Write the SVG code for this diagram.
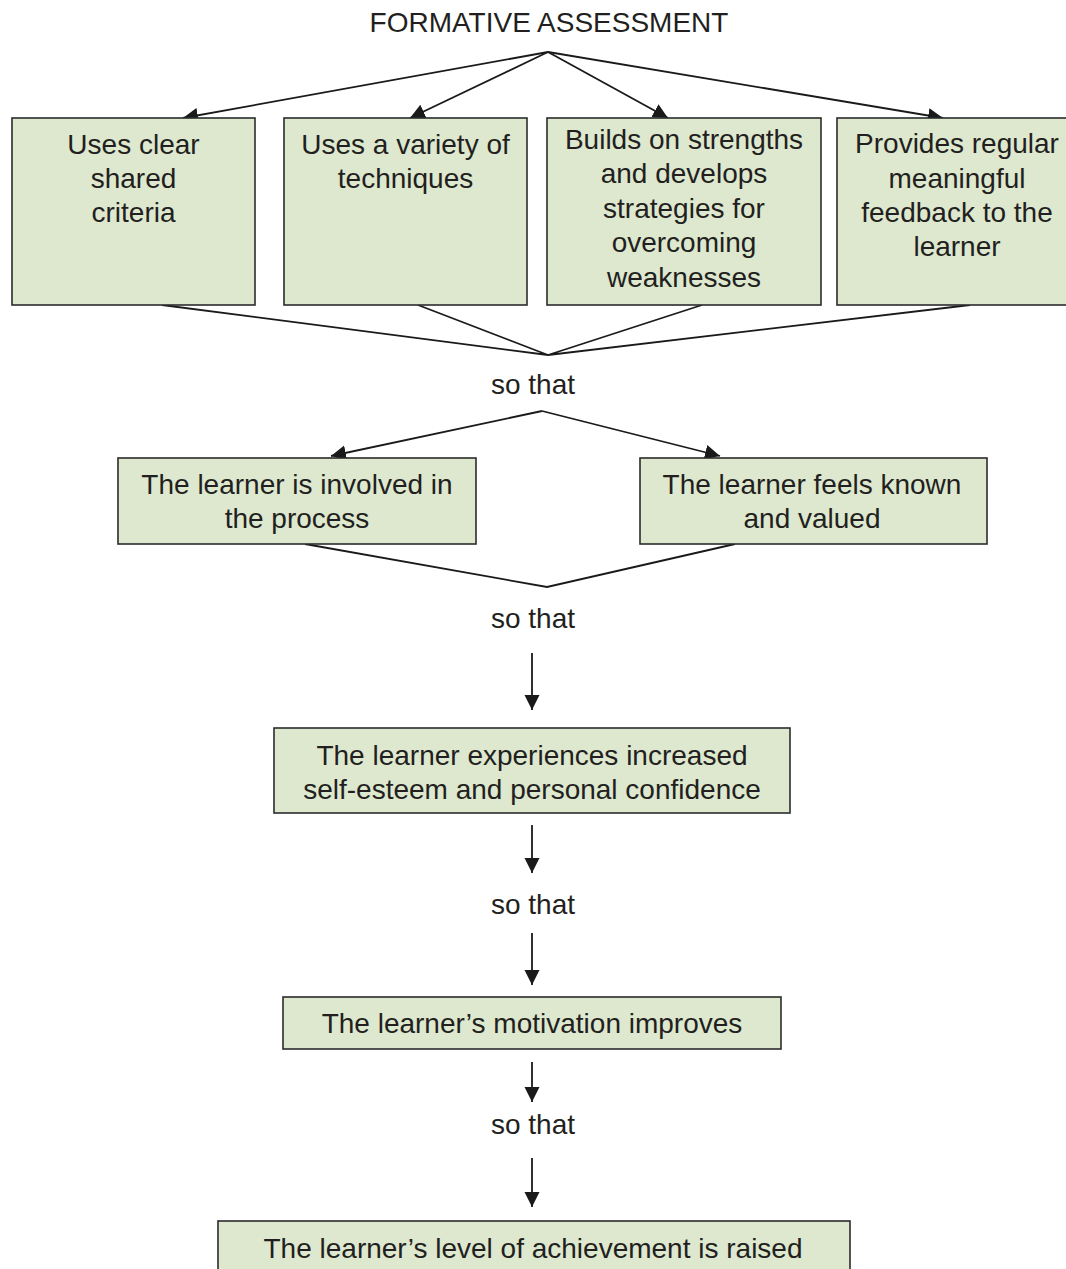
<svg xmlns="http://www.w3.org/2000/svg" width="1066" height="1269" viewBox="0 0 1066 1269">
  <style>
    .box { fill: #dde8cf; stroke: #2b2b2b; stroke-width: 1.6; }
    .lbl { font-family: "Liberation Sans", Arial, sans-serif; font-size: 28px; fill: #231f20; text-anchor: middle; }
    .link { fill: none; stroke: #1a1a1a; stroke-width: 1.8; }
    .arrow { fill: none; stroke: #1a1a1a; stroke-width: 1.8; marker-end: url(#head); }
  </style>
  <defs>
    <marker id="head" markerUnits="userSpaceOnUse" markerWidth="16" markerHeight="16" refX="15" refY="7.5" orient="auto">
      <path d="M0,0 L15,7.5 L0,15 z" fill="#1a1a1a"/>
    </marker>
  </defs>
  <rect width="1066" height="1269" fill="#ffffff"/>

  <!-- connectors -->
  <g id="connectors">
    <path class="arrow" d="M548,52 L183,118"/>
    <path class="arrow" d="M548,52 L410,118"/>
    <path class="arrow" d="M548,52 L668,118"/>
    <path class="arrow" d="M548,52 L943,118"/>
    <path class="link" d="M162,305 L548,355 L418,305"/>
    <path class="link" d="M702,305 L548,355 L970,305"/>
    <path class="arrow" d="M542,411 L331,456"/>
    <path class="arrow" d="M542,411 L720,456"/>
    <path class="link" d="M305,544 L547,587 L735,544"/>
    <path class="arrow" d="M532,653 L532,710"/>
    <path class="arrow" d="M532,825 L532,873"/>
    <path class="arrow" d="M532,933 L532,985"/>
    <path class="arrow" d="M532,1062 L532,1102"/>
    <path class="arrow" d="M532,1158 L532,1207"/>
  </g>

  <g id="title">
    <text class="lbl" x="549" y="32">FORMATIVE ASSESSMENT</text>
  </g>

  <g id="criteria">
    <rect class="box" x="12" y="118" width="243" height="187"/>
    <text class="lbl" x="133.5" y="154">Uses clear</text>
    <text class="lbl" x="133.5" y="188">shared</text>
    <text class="lbl" x="133.5" y="222">criteria</text>
  </g>

  <g id="techniques">
    <rect class="box" x="284" y="118" width="243" height="187"/>
    <text class="lbl" x="405.5" y="154">Uses a variety of</text>
    <text class="lbl" x="405.5" y="188">techniques</text>
  </g>

  <g id="strengths">
    <rect class="box" x="547" y="118" width="274" height="187"/>
    <text class="lbl" x="684" y="149">Builds on strengths</text>
    <text class="lbl" x="684" y="183">and develops</text>
    <text class="lbl" x="684" y="218">strategies for</text>
    <text class="lbl" x="684" y="252">overcoming</text>
    <text class="lbl" x="684" y="287">weaknesses</text>
  </g>

  <g id="feedback">
    <rect class="box" x="837" y="118" width="240" height="187"/>
    <text class="lbl" x="957" y="153">Provides regular</text>
    <text class="lbl" x="957" y="188">meaningful</text>
    <text class="lbl" x="957" y="222">feedback to the</text>
    <text class="lbl" x="957" y="256">learner</text>
  </g>

  <g id="so-that-1">
    <text class="lbl" x="533" y="394">so that</text>
  </g>

  <g id="involved">
    <rect class="box" x="118" y="458" width="358" height="86"/>
    <text class="lbl" x="297" y="494">The learner is involved in</text>
    <text class="lbl" x="297" y="528">the process</text>
  </g>

  <g id="valued">
    <rect class="box" x="640" y="458" width="347" height="86"/>
    <text class="lbl" x="812" y="494">The learner feels known</text>
    <text class="lbl" x="812" y="528">and valued</text>
  </g>

  <g id="so-that-2">
    <text class="lbl" x="533" y="628">so that</text>
  </g>

  <g id="self-esteem">
    <rect class="box" x="274" y="728" width="516" height="85"/>
    <text class="lbl" x="532" y="765">The learner experiences increased</text>
    <text class="lbl" x="532" y="799">self-esteem and personal confidence</text>
  </g>

  <g id="so-that-3">
    <text class="lbl" x="533" y="914">so that</text>
  </g>

  <g id="motivation">
    <rect class="box" x="283" y="997" width="498" height="52"/>
    <text class="lbl" x="532" y="1033">The learner’s motivation improves</text>
  </g>

  <g id="so-that-4">
    <text class="lbl" x="533" y="1134">so that</text>
  </g>

  <g id="achievement">
    <rect class="box" x="218" y="1221" width="632" height="60"/>
    <text class="lbl" x="533" y="1258">The learner’s level of achievement is raised</text>
  </g>
</svg>
